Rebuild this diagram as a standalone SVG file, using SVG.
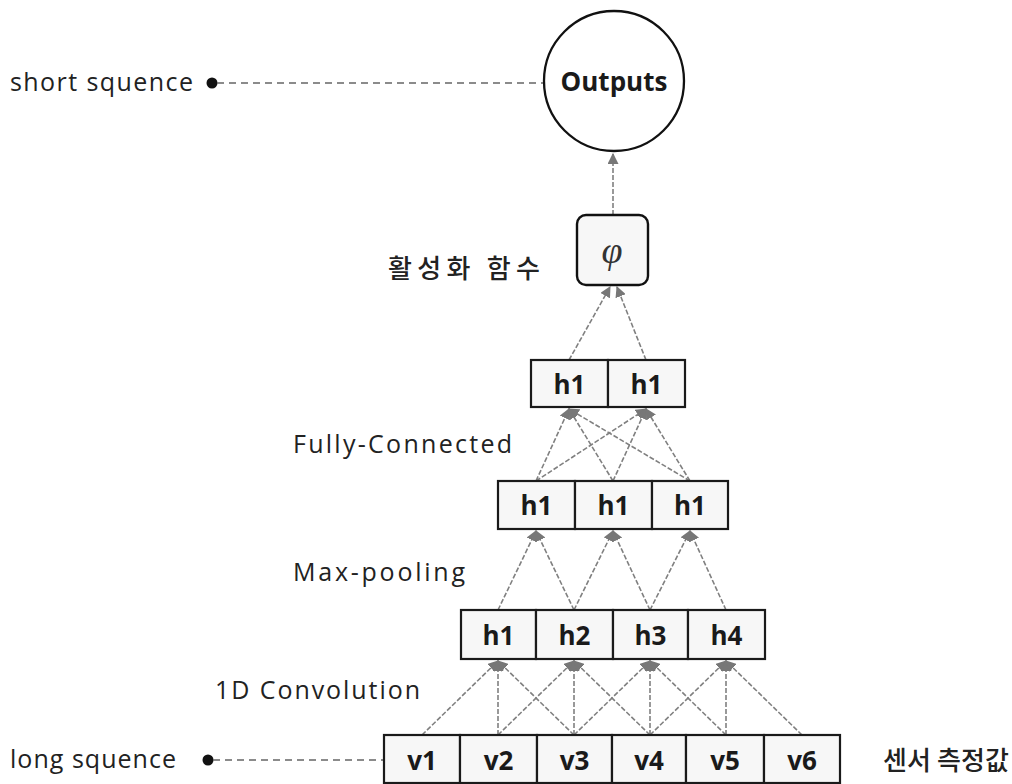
<svg xmlns="http://www.w3.org/2000/svg" width="1012" height="784" viewBox="0 0 1012 784">
  <style>
    .cell { fill: #f7f7f7; stroke: #1a1a1a; stroke-width: 2.2; }
    .cellText { font-family: "Open Sans", "Liberation Sans", sans-serif; font-weight: bold; font-size: 26px; fill: #1a1a1a; text-anchor: middle; dominant-baseline: central; }
    .label { font-family: "Open Sans", "Liberation Sans", sans-serif; font-size: 25px; fill: #222; }
    .kr { font-family: "Noto Sans CJK KR", "Noto Sans", sans-serif; font-size: 26px; font-weight: 500; fill: #222; }
    .edge { stroke: #808080; stroke-width: 1.6; stroke-dasharray: 5 2; fill: none; marker-end: url(#arrow); }
    .lead { stroke: #666; stroke-width: 1.4; stroke-dasharray: 7 5; fill: none; }
  </style>
  <defs>
    <marker id="arrow" viewBox="0 0 10 10" refX="9" refY="5" markerWidth="11" markerHeight="11" markerUnits="userSpaceOnUse" orient="auto">
      <path d="M0,0 L10,5 L0,10 z" fill="#777"/>
    </marker>
  </defs>

  <!-- connectors -->
  <g id="connectors">
    <!-- sequence leads -->
    <circle cx="212" cy="83" r="5.5" fill="#111"/>
    <line class="lead" x1="217" y1="83" x2="544" y2="83"/>
    <circle cx="208" cy="760" r="5.5" fill="#111"/>
    <line class="lead" x1="213" y1="760" x2="383" y2="760"/>

    <!-- 1D convolution: v(i..i+2) -> h(i) -->
    <line class="edge" x1="422" y1="735" x2="498" y2="661"/>
    <line class="edge" x1="498" y1="735" x2="498" y2="661"/>
    <line class="edge" x1="574" y1="735" x2="498" y2="661"/>
    <line class="edge" x1="498" y1="735" x2="574" y2="661"/>
    <line class="edge" x1="574" y1="735" x2="574" y2="661"/>
    <line class="edge" x1="650" y1="735" x2="574" y2="661"/>
    <line class="edge" x1="574" y1="735" x2="650" y2="661"/>
    <line class="edge" x1="650" y1="735" x2="650" y2="661"/>
    <line class="edge" x1="726" y1="735" x2="650" y2="661"/>
    <line class="edge" x1="650" y1="735" x2="726" y2="661"/>
    <line class="edge" x1="726" y1="735" x2="726" y2="661"/>
    <line class="edge" x1="802" y1="735" x2="726" y2="661"/>

    <!-- max-pooling -->
    <line class="edge" x1="498" y1="610" x2="536" y2="531"/>
    <line class="edge" x1="574" y1="610" x2="536" y2="531"/>
    <line class="edge" x1="574" y1="610" x2="613" y2="531"/>
    <line class="edge" x1="650" y1="610" x2="613" y2="531"/>
    <line class="edge" x1="650" y1="610" x2="690" y2="531"/>
    <line class="edge" x1="726" y1="610" x2="690" y2="531"/>

    <!-- fully-connected -->
    <line class="edge" x1="536" y1="481" x2="569" y2="409"/>
    <line class="edge" x1="613" y1="481" x2="569" y2="409"/>
    <line class="edge" x1="690" y1="481" x2="569" y2="409"/>
    <line class="edge" x1="536" y1="481" x2="646" y2="409"/>
    <line class="edge" x1="613" y1="481" x2="646" y2="409"/>
    <line class="edge" x1="690" y1="481" x2="646" y2="409"/>

    <!-- to activation -->
    <line class="edge" x1="569" y1="360" x2="610" y2="287"/>
    <line class="edge" x1="646" y1="360" x2="617" y2="287"/>

    <!-- to outputs -->
    <line class="edge" x1="613" y1="215" x2="613" y2="154"/>
  </g>

  <!-- outputs -->
  <g id="outputs">
    <circle cx="614" cy="81" r="70" fill="#fff" stroke="#111" stroke-width="2.3"/>
    <text x="614" y="81" class="cellText" font-size="22">Outputs</text>
  </g>

  <!-- activation function -->
  <g id="activation">
    <rect x="577" y="215" width="71" height="70" rx="9" fill="#f7f7f7" stroke="#111" stroke-width="2.4"/>
    <text x="612" y="250" font-family="Liberation Serif, serif" font-style="italic" font-size="38" fill="#333" text-anchor="middle" dominant-baseline="central">φ</text>
  </g>

  <!-- fully-connected layer -->
  <g id="fc-layer">
    <rect class="cell" x="531" y="360" width="77" height="47"/>
    <rect class="cell" x="608" y="360" width="77" height="47"/>
    <text class="cellText" x="569.5" y="384">h1</text>
    <text class="cellText" x="646.5" y="384">h1</text>
  </g>

  <!-- pooled layer -->
  <g id="pool-layer">
    <rect class="cell" x="498" y="481" width="77" height="48"/>
    <rect class="cell" x="575" y="481" width="77" height="48"/>
    <rect class="cell" x="652" y="481" width="76" height="48"/>
    <text class="cellText" x="536.5" y="505">h1</text>
    <text class="cellText" x="613.5" y="505">h1</text>
    <text class="cellText" x="690" y="505">h1</text>
  </g>

  <!-- convolution layer -->
  <g id="conv-layer">
    <rect class="cell" x="461" y="610" width="75" height="49"/>
    <rect class="cell" x="536" y="610" width="77" height="49"/>
    <rect class="cell" x="613" y="610" width="75" height="49"/>
    <rect class="cell" x="688" y="610" width="77" height="49"/>
    <text class="cellText" x="498.5" y="635">h1</text>
    <text class="cellText" x="574.5" y="635">h2</text>
    <text class="cellText" x="650.5" y="635">h3</text>
    <text class="cellText" x="726.5" y="635">h4</text>
  </g>

  <!-- input values -->
  <g id="input-layer">
    <rect class="cell" x="384" y="735" width="76" height="48"/>
    <rect class="cell" x="460" y="735" width="77" height="48"/>
    <rect class="cell" x="537" y="735" width="75" height="48"/>
    <rect class="cell" x="612" y="735" width="74" height="48"/>
    <rect class="cell" x="686" y="735" width="78" height="48"/>
    <rect class="cell" x="764" y="735" width="76" height="48"/>
    <text class="cellText" x="422" y="760">v1</text>
    <text class="cellText" x="498.5" y="760">v2</text>
    <text class="cellText" x="574.5" y="760">v3</text>
    <text class="cellText" x="649" y="760">v4</text>
    <text class="cellText" x="725" y="760">v5</text>
    <text class="cellText" x="802" y="760">v6</text>
  </g>

  <!-- labels -->
  <g id="labels">
    <text class="label" x="10" y="91" textLength="183" lengthAdjust="spacing">short squence</text>
    <text class="label" x="10" y="768" textLength="166" lengthAdjust="spacing">long squence</text>
    <text class="kr" x="388" y="278" textLength="152" lengthAdjust="spacing">활성화 함수</text>
    <text class="label" x="293" y="453" textLength="219" lengthAdjust="spacing">Fully-Connected</text>
    <text class="label" x="293" y="581" textLength="172" lengthAdjust="spacing">Max-pooling</text>
    <text class="label" x="215" y="699" textLength="205" lengthAdjust="spacing">1D Convolution</text>
    <text class="kr" x="883" y="770" textLength="126" lengthAdjust="spacing">센서 측정값</text>
  </g>
</svg>
